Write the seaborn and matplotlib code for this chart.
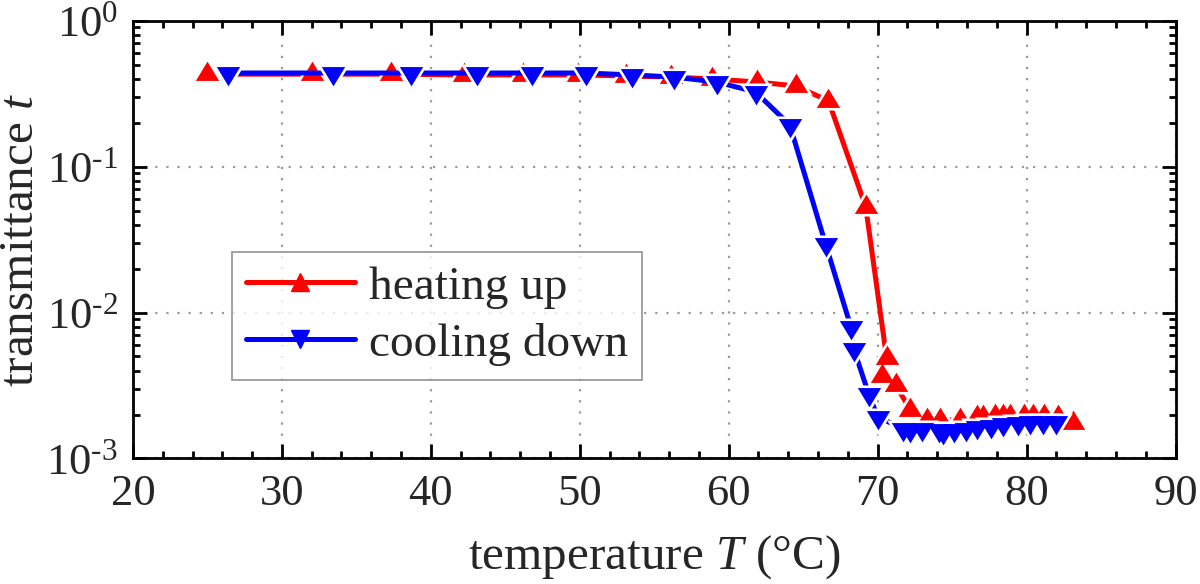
import numpy as np
import pandas as pd
import seaborn as sns
import matplotlib.pyplot as plt
from matplotlib.path import Path
from matplotlib.lines import Line2D
from matplotlib.ticker import MultipleLocator, LogLocator, NullFormatter, FuncFormatter

# heating up (red, triangle up)
heat_T = [25.0, 32.0, 37.3, 42.2, 46.2, 49.9, 53.1, 56.1, 58.9, 61.9, 64.5, 66.7,
          69.2, 70.6, 70.3, 71.2, 72.2, 73.3, 74.2, 75.5, 76.7, 77.1, 77.9, 78.4,
          78.9, 79.8, 80.4, 81.2, 82.1, 83.1]
heat_t = [0.43, 0.43, 0.43, 0.425, 0.425, 0.425, 0.418, 0.411, 0.399, 0.380, 0.357, 0.282,
          0.053, 0.0049, 0.0037, 0.0032, 0.00215, 0.00184, 0.00184, 0.00184, 0.00193, 0.00193,
          0.00196, 0.00196, 0.00196, 0.00196, 0.00196, 0.00196, 0.00193, 0.00176]

# cooling down (blue, triangle down)
cool_T = [26.4, 33.4, 38.7, 43.1, 46.8, 50.4, 53.5, 56.3, 59.2, 61.8, 64.1, 66.5,
          68.2, 68.4, 69.4, 70.0, 71.7, 72.2, 73.0, 74.1, 74.4, 75.1, 75.9, 76.7,
          77.6, 78.4, 79.4, 80.2, 81.1, 82.0]
cool_t = [0.438, 0.438, 0.438, 0.438, 0.438, 0.438, 0.425, 0.411, 0.380, 0.325, 0.193, 0.0295,
          0.0080, 0.0056, 0.00277, 0.00193, 0.0016, 0.00158, 0.0016, 0.00158, 0.00152, 0.00156,
          0.0016, 0.00165, 0.00168, 0.00173, 0.00176, 0.00178, 0.00178, 0.00178]

sns.set_style("ticks")
plt.rcParams["font.family"] = ["Liberation Serif", "DejaVu Serif"]
plt.rcParams["mathtext.fontset"] = "custom"
plt.rcParams["mathtext.rm"] = "Liberation Serif"
plt.rcParams["mathtext.it"] = "Liberation Serif:italic"

# triangles centred on their centroid, like the original software does
w, h = 23.0, 19.0
tri_up = Path([(0, 2 * h / 3), (-w / 2, -h / 3), (w / 2, -h / 3), (0, 2 * h / 3)], closed=True)
tri_dn = Path([(0, -2 * h / 3), (-w / 2, h / 3), (w / 2, h / 3), (0, -2 * h / 3)], closed=True)

fig = plt.figure(figsize=(12, 5.84), dpi=100)
ax = fig.add_axes([0.1108, 0.2149, 0.8688, 0.7497])

ms = 18.5
halo = 26

series = [
    (heat_T, heat_t, "red", tri_up),
    (cool_T, cool_t, "blue", tri_dn),
]
z = 3
for T, t, col, mk in series:
    df = pd.DataFrame({"T": T, "t": t})
    sns.lineplot(data=df, x="T", y="t", color=col, lw=3.6, sort=False,
                 estimator=None, ax=ax, zorder=z)
    sns.scatterplot(data=df, x="T", y="t", marker=mk, s=halo ** 2, color="white",
                    linewidth=0, ax=ax, zorder=z + 1)
    sns.scatterplot(data=df, x="T", y="t", marker=mk, s=ms ** 2, color=col,
                    linewidth=0, ax=ax, zorder=z + 2)
    z += 3

ax.set_yscale("log")
ax.set_xlim(20, 90)
ax.set_ylim(1e-3, 1)
ax.xaxis.set_major_locator(MultipleLocator(10))
ax.xaxis.set_minor_locator(MultipleLocator(2))
ax.yaxis.set_major_locator(LogLocator(base=10))
ax.yaxis.set_minor_locator(LogLocator(base=10, subs=np.arange(2, 10)))
ax.yaxis.set_minor_formatter(NullFormatter())


def exp_label(v, pos):
    e = int(round(np.log10(v)))
    sign = r"\text{-}" if e < 0 else ""
    return r"$\mathregular{10^{%s%d}}$" % (sign, abs(e))


ax.yaxis.set_major_formatter(FuncFormatter(exp_label))

ax.grid(True, which="major", color="#999999", linestyle=(0, (1, 4)), lw=1.6, zorder=0)
for s in ax.spines.values():
    s.set_linewidth(2)
    s.set_color("black")
ax.tick_params(which="both", direction="in", top=True, right=True, width=2, color="black",
               labelsize=32, pad=11)
ax.tick_params(which="major", length=10)
ax.tick_params(which="minor", length=5)

ax.set_xlabel("temperature $T$ (°C)", fontsize=35.5, labelpad=14)
ax.set_ylabel("transmittance $t$", fontsize=35.5)
ax.yaxis.set_label_coords(-0.086, 0.5)

handles = [
    Line2D([], [], color="red", lw=3.6, marker="^", markersize=13),
    Line2D([], [], color="blue", lw=3.6, marker="v", markersize=13),
]
leg = ax.legend(handles, ["heating up", "cooling down"], loc="lower left",
                bbox_to_anchor=(0.095, 0.179), borderaxespad=0, fontsize=34,
                fancybox=False, frameon=True, edgecolor="#777777", handlelength=2.3,
                handletextpad=0.3, borderpad=0.3, labelspacing=0.3)
leg.get_frame().set_linewidth(1.2)
leg.set_zorder(20)

fig.savefig("out.png", dpi=100)
